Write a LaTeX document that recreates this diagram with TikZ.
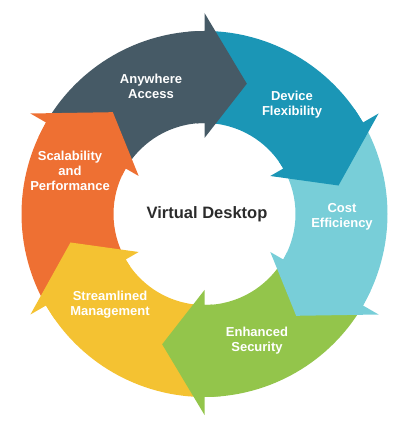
\documentclass[tikz,border=0pt]{standalone}
\usepackage{fontspec}
\setmainfont{Liberation Sans}
\definecolor{ringslate}{HTML}{465A66}
\definecolor{ringteal}{HTML}{1B96B6}
\definecolor{ringsky}{HTML}{78CED8}
\definecolor{ringgreen}{HTML}{93C54B}
\definecolor{ringyellow}{HTML}{F4C232}
\definecolor{ringorange}{HTML}{EE7033}
\definecolor{hubtext}{HTML}{2B2B2B}

\begin{document}
\begin{tikzpicture}[x=1pt,y=1pt,
  step label/.style={font=\bfseries\fontsize{13}{15}\selectfont,
  text=white,align=center,inner sep=0pt},
  hub label/.style={font=\bfseries\fontsize{16.5}{19}\selectfont,
  text=hubtext,inner sep=0pt}]
  \useasboundingbox (-204.5,-213) rectangle (210.5,214);
  % ring, one band of 60 degrees per step
  \foreach \a/\col in {150/ringslate,90/ringteal,30/ringsky,
      -30/ringgreen,-90/ringyellow,-150/ringorange}
    \fill[\col] (\a:183) arc[start angle=\a,end angle=\a-60,radius=183]
      -- ({\a-60}:91) arc[start angle=\a-60,end angle=\a,radius=91] -- cycle;
  % arrow heads on top of the next band (a little overlap, no seam)
  \foreach \a/\col in {150/ringslate,90/ringteal,30/ringsky,
      -30/ringgreen,-90/ringyellow,-150/ringorange}
    \fill[\col] ({\a-55}:183) -- ({\a-60}:183) -- ({\a-60}:201)
      -- ({\a-78}:137) -- ({\a-60}:76) -- ({\a-60}:91)
      -- ({\a-55}:91) -- cycle;

  \node[hub label] (hub) at (2.5,0) {Virtual Desktop};
  \node[step label] (anywhere) at (-53.5,128) {Anywhere\\Access};
  \node[step label] (device) at (87.5,109) {Device\\Flexibility};
  \node[step label] (cost) at (137.5,-3) {Cost\\Efficiency};
  \node[step label] (security) at (52.5,-127) {Enhanced\\Security};
  \node[step label] (management) at (-94.5,-91) {Streamlined\\Management};
  \node[step label] (scalability) at (-134.5,43) {Scalability\\and\\Performance};
\end{tikzpicture}
\end{document}
